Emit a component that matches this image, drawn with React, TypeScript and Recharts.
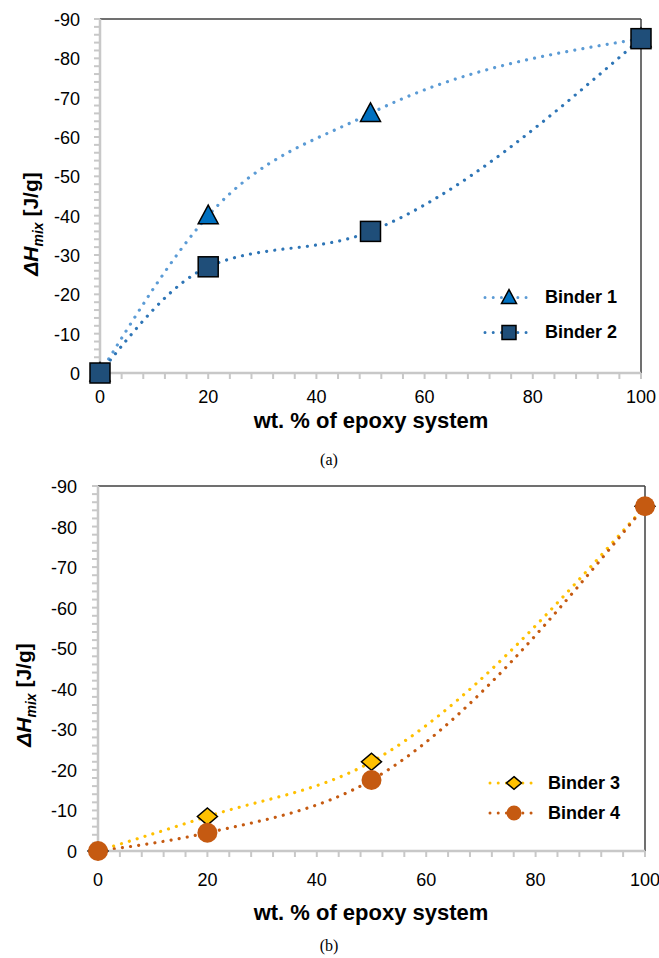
import { LineChart, Line, XAxis, YAxis, ReferenceLine, Legend } from 'recharts'

const FONT = "'Liberation Sans', Arial, sans-serif"
const AXIS = '#C8C8C8'
const FRAME = '#404040'

// wt. % of epoxy system
const wtPercent = [0, 20, 50, 100]
// ΔHmix [J/g]
const binder1 = [0, -40, -66, -85]
const binder2 = [0, -27, -36, -85]
const binder3 = [0, -8.5, -22, -85]
const binder4 = [0, -4.5, -17.5, -85]

const yLabels = [0, -10, -20, -30, -40, -50, -60, -70, -80, -90]
const xLabels = [0, 20, 40, 60, 80, 100]
// minor tick marks: every 2 on y, every 4 on x
const yTicks = Array.from({ length: 46 }, (_, i) => -i * 2)
const xTicks = Array.from({ length: 26 }, (_, i) => i * 4)

const dataA = wtPercent.map((x, i) => ({ x, b1: binder1[i], b2: binder2[i] }))
const dataB = wtPercent.map((x, i) => ({ x, b3: binder3[i], b4: binder4[i] }))

const C1_LINE = '#5B9BD5'
const C1_FILL = '#0070C0'
const C2_LINE = '#2E75B6'
const C2_FILL = '#1F4E79'
const C3 = '#FFC000'
const C4 = '#C55A11'

const DOTTED = { strokeWidth: 3.2, strokeDasharray: '0.01 8.2', strokeLinecap: 'round' as const }

const tri = (cx: number, cy: number, s: number, fill: string, key?: any) => (
  <polygon key={key} points={`${cx},${cy - s * 1.05} ${cx - s},${cy + s * 0.8} ${cx + s},${cy + s * 0.8}`}
    fill={fill} stroke="#000" strokeWidth={1.5} />
)
const sq = (cx: number, cy: number, s: number, fill: string, key?: any) => (
  <rect key={key} x={cx - s} y={cy - s} width={s * 2} height={s * 2} fill={fill} stroke="#000" strokeWidth={1.5} />
)
const dia = (cx: number, cy: number, s: number, fill: string, key?: any) => (
  <polygon key={key} points={`${cx},${cy - s * 0.85} ${cx + s},${cy} ${cx},${cy + s * 0.85} ${cx - s},${cy}`}
    fill={fill} stroke="#000" strokeWidth={1.5} />
)
const circ = (cx: number, cy: number, s: number, fill: string, key?: any) => (
  <circle key={key} cx={cx} cy={cy} r={s} fill={fill} />
)

function YTick({ x, y, payload }: any) {
  if (!yLabels.includes(payload.value)) return <g />
  return (
    <text x={x} y={y} dy={7} textAnchor="end" fontSize={18} fontFamily={FONT} fill="#000">
      {payload.value}
    </text>
  )
}

function makeXTick(dy: number) {
  return function XTick({ x, y, payload }: any) {
    if (!xLabels.includes(payload.value)) return <g />
    return (
      <text x={x} y={y} dy={dy} textAnchor="middle" fontSize={18} fontFamily={FONT} fill="#000">
        {payload.value}
      </text>
    )
  }
}

type Item = { name: string; line: string; marker: (cx: number, cy: number) => any }

function LegendBox({ items, rowH, gap }: { items: Item[]; rowH: number; gap: number }) {
  return (
    <div>
      {items.map((it) => (
        <div key={it.name} style={{ display: 'flex', alignItems: 'center', height: rowH }}>
          <svg width={50} height={rowH} style={{ display: 'block' }}>
            <line x1={2} x2={48} y1={rowH / 2} y2={rowH / 2} stroke={it.line} {...DOTTED} strokeWidth={3} />
            {it.marker(26, rowH / 2)}
          </svg>
          <span style={{ marginLeft: gap, fontFamily: FONT, fontWeight: 'bold', fontSize: 18, color: '#000' }}>
            {it.name}
          </span>
        </div>
      ))}
    </div>
  )
}

const legendA: Item[] = [
  { name: 'Binder 1', line: C1_LINE, marker: (cx, cy) => tri(cx, cy, 7.5, C1_FILL) },
  { name: 'Binder 2', line: C2_LINE, marker: (cx, cy) => sq(cx, cy, 7, C2_FILL) },
]
const legendB: Item[] = [
  { name: 'Binder 3', line: C3, marker: (cx, cy) => dia(cx, cy, 7.5, C3) },
  { name: 'Binder 4', line: C4, marker: (cx, cy) => circ(cx, cy, 7.5, C4) },
]

function YTitle({ x, y }: { x: number; y: number }) {
  return (
    <text x={x} y={y} transform={`rotate(-90 ${x} ${y})`} textAnchor="middle" fontFamily={FONT}
      fontWeight="bold" fontSize={21} fill="#000">
      <tspan fontStyle="italic">ΔH</tspan>
      <tspan fontStyle="italic" fontSize={14} dy={5}>mix</tspan>
      <tspan dy={-5}> [J/g]</tspan>
    </text>
  )
}

const axisCommon = {
  axisLine: { stroke: AXIS, strokeWidth: 2.5 },
  tickLine: { stroke: AXIS, strokeWidth: 2 },
}

export default function App() {
  return (
    <div style={{ position: 'absolute', left: 0, top: 0, width: 659, height: 958, background: '#fff' }}>
      <div style={{ position: 'absolute', left: 0, top: 0 }}>
        <LineChart width={659} height={440} data={dataA} margin={{ top: 19, right: 18, left: 0, bottom: 37 }}>
          <XAxis dataKey="x" type="number" domain={[0, 100]} ticks={xTicks} interval={0} height={30}
            tickSize={6} tickMargin={0} tick={makeXTick(24)} {...axisCommon} />
          <YAxis type="number" domain={[-90, 0]} reversed ticks={yTicks} interval={0} width={100}
            tickSize={6} tickMargin={14} tick={<YTick />} {...axisCommon} />
          <ReferenceLine y={-90} stroke={FRAME} strokeWidth={1.5} />
          <ReferenceLine x={100} stroke={FRAME} strokeWidth={1.5} />
          <Line dataKey="b1" name="Binder 1" type="monotone" stroke={C1_LINE} {...DOTTED}
            dot={(p: any) => tri(p.cx, p.cy, 10, C1_FILL, p.index)} activeDot={false} isAnimationActive={false} />
          <Line dataKey="b2" name="Binder 2" type="monotone" stroke={C2_LINE} {...DOTTED}
            dot={(p: any) => sq(p.cx, p.cy, 10, C2_FILL, p.index)} activeDot={false} isAnimationActive={false} />
          <Legend layout="vertical" align="center" verticalAlign="middle"
            wrapperStyle={{ left: 483, top: 279.5, width: 160 }}
            content={() => <LegendBox items={legendA} rowH={35} gap={12} />} />
        </LineChart>
      </div>
      <div style={{ position: 'absolute', left: 0, top: 460 }}>
        <LineChart width={659} height={440} data={dataB} margin={{ top: 26, right: 14, left: 0, bottom: 19 }}>
          <XAxis dataKey="x" type="number" domain={[0, 100]} ticks={xTicks} interval={0} height={30}
            tickSize={6} tickMargin={0} tick={makeXTick(29)} {...axisCommon} />
          <YAxis type="number" domain={[-90, 0]} reversed ticks={yTicks} interval={0} width={98}
            tickSize={6} tickMargin={15} tick={<YTick />} {...axisCommon} />
          <ReferenceLine y={-90} stroke={FRAME} strokeWidth={1.5} />
          <ReferenceLine x={100} stroke={FRAME} strokeWidth={1.5} />
          <Line dataKey="b3" name="Binder 3" type="monotone" stroke={C3} {...DOTTED}
            dot={(p: any) => dia(p.cx, p.cy, 10, C3, p.index)} activeDot={false} isAnimationActive={false} />
          <Line dataKey="b4" name="Binder 4" type="monotone" stroke={C4} {...DOTTED}
            dot={(p: any) => circ(p.cx, p.cy, 10, C4, p.index)} activeDot={false} isAnimationActive={false} />
          <Legend layout="vertical" align="center" verticalAlign="middle"
            wrapperStyle={{ left: 488, top: 308, width: 160 }}
            content={() => <LegendBox items={legendB} rowH={30} gap={10} />} />
        </LineChart>
      </div>
      <svg width={659} height={958} style={{ position: 'absolute', left: 0, top: 0, pointerEvents: 'none' }}>
        <YTitle x={38} y={224} />
        <text x={371} y={428} textAnchor="middle" fontFamily={FONT} fontWeight="bold" fontSize={22} fill="#000">
          wt. % of epoxy system
        </text>
        <text x={329} y={465} textAnchor="middle" fontFamily="'Liberation Serif', 'Times New Roman', serif"
          fontSize={16} fill="#000">(a)</text>
        <YTitle x={31} y={695} />
        <text x={371} y={920} textAnchor="middle" fontFamily={FONT} fontWeight="bold" fontSize={22} fill="#000">
          wt. % of epoxy system
        </text>
        <text x={329} y={951} textAnchor="middle" fontFamily="'Liberation Serif', 'Times New Roman', serif"
          fontSize={16} fill="#000">(b)</text>
      </svg>
    </div>
  )
}
